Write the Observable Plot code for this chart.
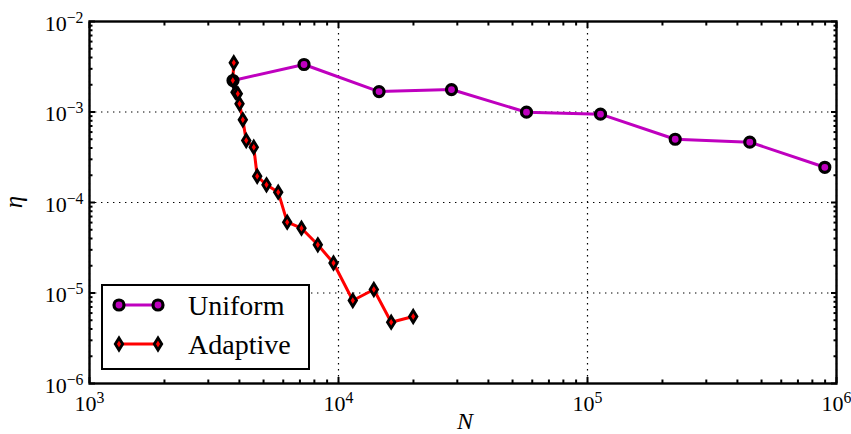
<!DOCTYPE html>
<html><head><meta charset="utf-8">
<script src="https://cdn.jsdelivr.net/npm/d3@7"></script>
<script src="https://cdn.jsdelivr.net/npm/@observablehq/plot@0.6"></script>
<style>body{margin:0;background:#fff} #chart svg{display:block}</style>
</head><body><div id="chart"></div>
<script>
// ---- data ----
const seriesNames = ["Uniform", "Adaptive"];
const uniformN   = [3770, 7270, 14550, 28430, 56890, 112760, 225000, 448500, 897500];
const uniformEta = [2.23e-3, 3.35e-3, 1.68e-3, 1.77e-3, 9.95e-4, 9.46e-4, 5.0e-4, 4.64e-4, 2.45e-4];
const adaptiveN   = [3797, 3763, 3858, 3941, 4004, 4128, 4260, 4568, 4715, 5138, 5726, 6223, 7101, 8259, 9549, 11413, 13865, 16277, 19953];
const adaptiveEta = [3.50e-3, 2.23e-3, 1.655e-3, 1.589e-3, 1.232e-3, 8.20e-4, 4.84e-4, 4.08e-4, 1.95e-4, 1.569e-4, 1.30e-4, 6.06e-5, 5.20e-5, 3.41e-5, 2.145e-5, 8.26e-6, 1.093e-5, 4.76e-6, 5.50e-6];
const xMajor = [1e3, 1e4, 1e5, 1e6];
const yMajor = [1e-6, 1e-5, 1e-4, 1e-3, 1e-2];
const xLabel = "N";
const yLabel = "η";

// ---- derived ----
const minorOf = majors => majors.slice(0, -1).flatMap(m => [2,3,4,5,6,7,8,9].map(k => k * m));
const xMinor = minorOf(xMajor);
const yMinor = minorOf(yMajor);
const uniform = uniformN.map((n, i) => ({N: n, eta: uniformEta[i]}));
const adaptive = adaptiveN.map((n, i) => ({N: n, eta: adaptiveEta[i]}));
const fmt = d => "10^" + Math.round(Math.log10(d));
const none = () => "";
const thinDiamond = {draw(ctx, size) {
  const h = Math.sqrt(size / Math.PI), w = h * 0.62;
  ctx.moveTo(0, -h); ctx.lineTo(w, 0); ctx.lineTo(0, h); ctx.lineTo(-w, 0); ctx.closePath();
}};
const MAG = "#bf00bf", RED = "#ff0000";
const FONT = "'Liberation Serif', 'DejaVu Serif', serif";
const CR = 5, CSW = 3.2, DR = 6, DSW = 2.8, LW = 3;
const grid = {stroke: "black", strokeOpacity: 1, strokeWidth: 1.2, strokeDasharray: "1.4,4.6"};
// inward tick: positive tick length shifted back inside by the same inset
const tick = (len) => ({label: null, tickSize: len, inset: len, stroke: "black", strokeWidth: 2, tickFormat: none});

const plot = Plot.plot({
  width: 851, height: 434,
  marginLeft: 89, marginRight: 15, marginTop: 21, marginBottom: 51,
  style: {fontFamily: FONT, fontSize: "22px", color: "black", background: "white", overflow: "visible"},
  x: {type: "log", domain: [1e3, 1e6]},
  y: {type: "log", domain: [1e-6, 1e-2]},
  marks: [
    Plot.gridX(xMajor, grid),
    Plot.gridY(yMajor, grid),
    Plot.line(uniform, {x: "N", y: "eta", stroke: MAG, strokeWidth: LW}),
    Plot.dot(uniform, {x: "N", y: "eta", r: CR, fill: MAG, stroke: "black", strokeWidth: CSW}),
    Plot.line(adaptive, {x: "N", y: "eta", stroke: RED, strokeWidth: LW}),
    Plot.dot(adaptive, {x: "N", y: "eta", symbol: thinDiamond, r: DR, fill: RED, stroke: "black", strokeWidth: DSW}),
    // inward ticks on all four sides
    Plot.axisX(xMajor, {anchor: "bottom", ...tick(6)}),
    Plot.axisX(xMinor, {anchor: "bottom", ...tick(3.5)}),
    Plot.axisX(xMajor, {anchor: "top", ...tick(6)}),
    Plot.axisX(xMinor, {anchor: "top", ...tick(3.5)}),
    Plot.axisY(yMajor, {anchor: "left", ...tick(6)}),
    Plot.axisY(yMinor, {anchor: "left", ...tick(3.5)}),
    Plot.axisY(yMajor, {anchor: "right", ...tick(6)}),
    Plot.axisY(yMinor, {anchor: "right", ...tick(3.5)}),
    // tick labels
    Plot.axisX(xMajor, {anchor: "bottom", label: null, tickSize: 0, tickPadding: 12, tickFormat: fmt, fontSize: 22}),
    Plot.axisY(yMajor, {anchor: "left", label: null, tickSize: 0, tickPadding: 6, tickFormat: fmt, fontSize: 22, dy: 2}),
    Plot.frame({stroke: "black", strokeWidth: 2.4})
  ]
});
document.getElementById("chart").appendChild(plot);

const svg = d3.select(plot);
// superscript exponents
svg.selectAll("text").each(function () {
  const t = d3.select(this);
  const m = /^10\^(-?\d+)$/.exec(t.text());
  if (!m) return;
  t.text(null);
  t.append("tspan").text("10");
  t.append("tspan").attr("dy", "-0.5em").attr("font-size", "0.72em").text(m[1].replace("-", "\u2212"));
});

// axis titles
svg.append("text").attr("x", 465).attr("y", 429).attr("text-anchor", "middle")
  .attr("font-family", FONT).attr("font-style", "italic").attr("font-size", 24).text(xLabel);
svg.append("text").attr("transform", "translate(22,202) rotate(-90)").attr("text-anchor", "middle")
  .attr("font-family", FONT).attr("font-style", "italic").attr("font-size", 25).text(yLabel);

// legend
const lg = svg.append("g");
lg.append("rect").attr("x", 102).attr("y", 285).attr("width", 207).attr("height", 84)
  .attr("fill", "white").attr("stroke", "black").attr("stroke-width", 2);
const styles = [
  {color: MAG, path: d3.symbol(d3.symbolCircle, CR * CR * Math.PI)(), sw: CSW},
  {color: RED, path: d3.symbol(thinDiamond, DR * DR * Math.PI)(), sw: DSW}
];
seriesNames.forEach((name, i) => {
  const cy = 305 + i * 39, s = styles[i];
  lg.append("line").attr("x1", 119).attr("x2", 158).attr("y1", cy).attr("y2", cy)
    .attr("stroke", s.color).attr("stroke-width", LW);
  [119, 158].forEach(cx => lg.append("path").attr("d", s.path).attr("transform", `translate(${cx},${cy})`)
    .attr("fill", s.color).attr("stroke", "black").attr("stroke-width", s.sw));
  lg.append("text").attr("x", 188).attr("y", cy + 10).attr("text-anchor", "start")
    .attr("font-family", FONT).attr("font-size", 28).text(name);
});
</script></body></html>
